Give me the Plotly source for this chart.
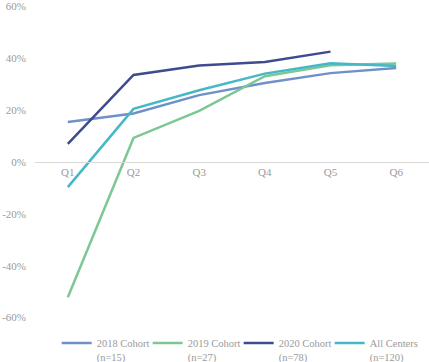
import plotly.graph_objects as go

quarters = ["Q1", "Q2", "Q3", "Q4", "Q5", "Q6"]
cohort_2018 = [15.4, 18.7, 25.8, 30.5, 34.3, 36.3]
cohort_2019 = [-52.2, 9.3, 19.7, 33.1, 37.3, 38.0]
cohort_2020 = [7.0, 33.6, 37.2, 38.6, 42.6, None]
all_centers = [-9.7, 20.5, 27.7, 34.1, 38.1, 37.0]
names = ["2018 Cohort<br>(n=15)", "2019 Cohort<br>(n=27)", "2020 Cohort<br>(n=78)", "All Centers<br>(n=120)"]
colors = ["#7090c8", "#7dc795", "#3f4b8f", "#45b8c8"]
y_ticks = [-60, -40, -20, 0, 20, 40, 60]
y_tick_labels = ["-60%", "-40%", "-20%", "0%", "20%", "40%", "60%"]

fig = go.Figure()
for name, vals, c in zip(names, [cohort_2018, cohort_2019, cohort_2020, all_centers], colors):
    fig.add_trace(go.Scatter(x=quarters, y=vals, name=name, mode="lines",
                             line=dict(color=c, width=2.5)))

font = dict(family="Liberation Serif", size=11, color="#9a9a9a")
legend_font = dict(family="Liberation Serif", size=10.5, color="#9a9a9a")
fig.update_layout(
    width=429, height=362,
    margin=dict(l=35, r=0, t=6, b=44, autoexpand=False),
    paper_bgcolor="white", plot_bgcolor="white",
    font=font,
    showlegend=True,
    legend=dict(orientation="h", x=0.055, y=0.089, yref="container",
                xanchor="left", yanchor="top",
                entrywidth=46, entrywidthmode="pixels", valign="top",
                font=legend_font, tracegroupgap=0, itemwidth=30),
    xaxis=dict(type="category", anchor="free", position=0.5, showline=True,
               linecolor="#d9d9d9", linewidth=1, showgrid=False, ticks="",
               tickfont=font, range=[-0.5, 5.5]),
    yaxis=dict(range=[-60.2, 60.2], tickvals=y_ticks, ticktext=y_tick_labels,
               showgrid=False, zeroline=False, showline=False, ticks="",
               tickfont=font, ticklabelstandoff=8),
)
fig.write_html("out.html", config={"displayModeBar": False},
               post_script="document.body.style.margin='0px';")
